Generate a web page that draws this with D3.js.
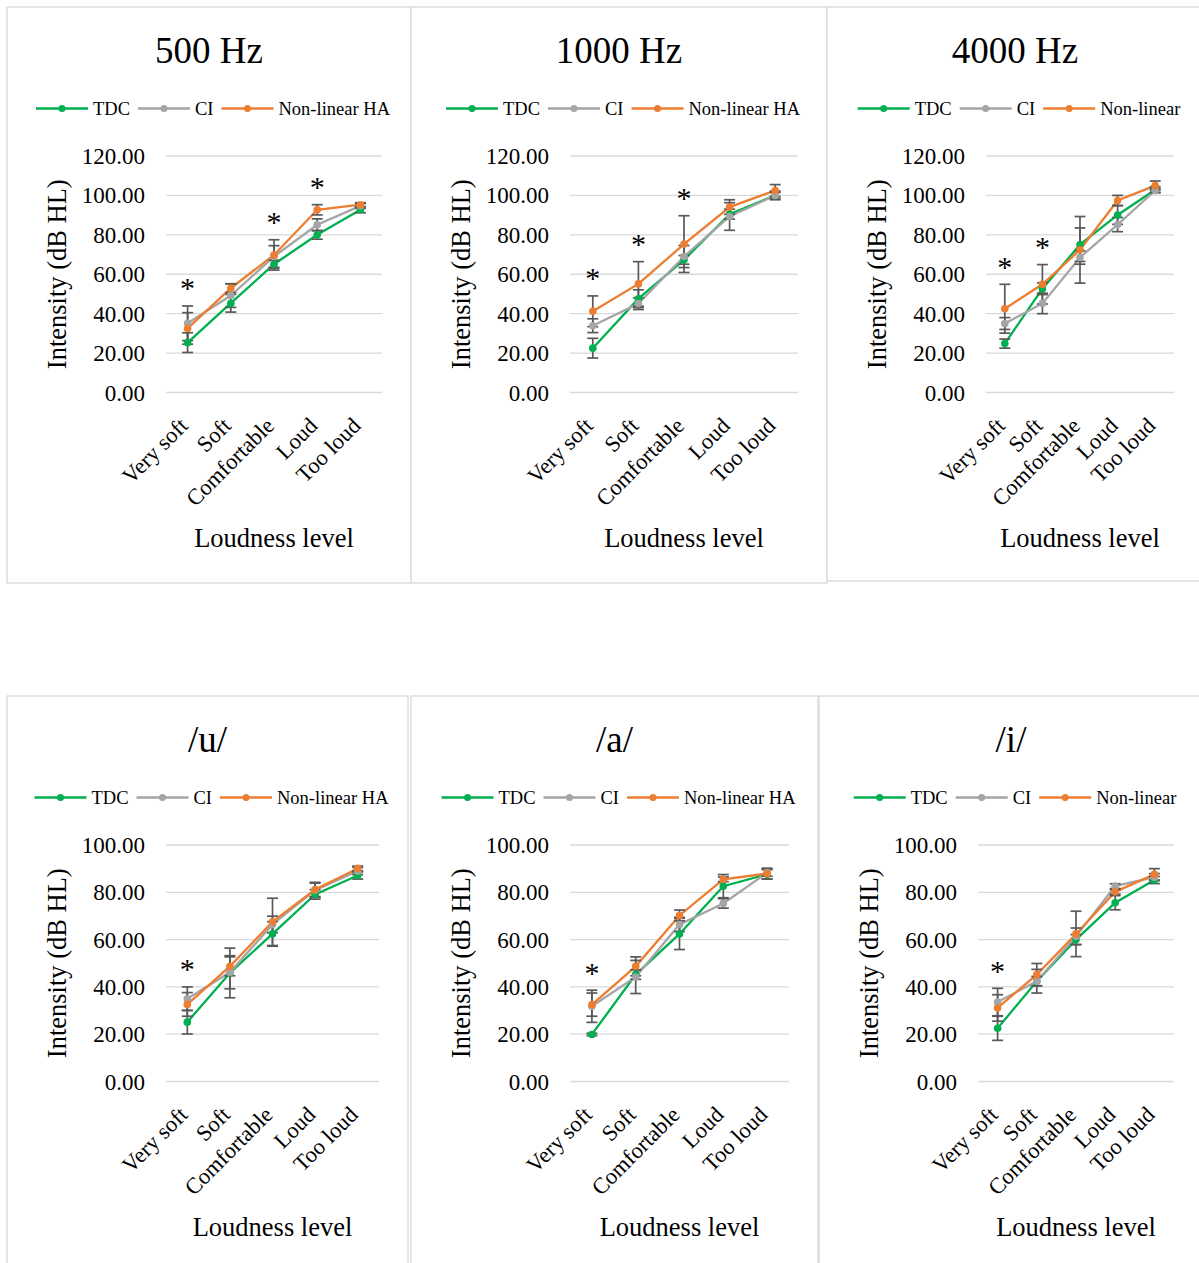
<!DOCTYPE html>
<html>
<head>
<meta charset="utf-8">
<script src="https://cdn.jsdelivr.net/npm/d3@7"></script>
<style>
  body { margin: 0; background: #fff; }
  svg { display: block; font-family: "Liberation Serif", "Times New Roman", serif; }
</style>
</head>
<body>
<svg id="chart" width="1199" height="1263"></svg>
<script>
const levels = ['Very soft', 'Soft', 'Comfortable', 'Loud', 'Too loud'];

// 500 Hz
const hz500TDC = [25.3, 45.3, 65.1, 80.0, 92.7];
const hz500TDCsd = [5.0, 4.5, 2.0, 2.2, 1.5];
const hz500CI = [35.1, 49.2, 69.0, 85.1, 94.7];
const hz500CIsd = [8.8, 6.0, 5.5, 3.0, 1.2];
const hz500HA = [32.5, 52.9, 69.8, 92.7, 95.3];
const hz500HAsd = [8.0, 2.2, 7.7, 2.6, 1.0];
const hz500Sig = ['Very soft', 'Comfortable', 'Loud'];

// 1000 Hz
const hz1000TDC = [22.5, 47.6, 67.3, 90.5, 100.0];
const hz1000TDCsd = [5.0, 4.5, 2.2, 2.5, 1.5];
const hz1000CI = [33.9, 45.1, 69.0, 89.3, 100.0];
const hz1000CIsd = [3.5, 3.0, 5.6, 7.0, 2.2];
const hz1000HA = [41.2, 55.1, 75.3, 94.1, 102.5];
const hz1000HAsd = [7.8, 11.3, 14.4, 3.7, 3.0];
const hz1000Sig = ['Very soft', 'Soft', 'Comfortable'];

// 4000 Hz
const hz4000TDC = [24.8, 52.7, 75.0, 90.1, 102.9];
const hz4000TDCsd = [2.3, 3.0, 8.5, 4.8, 1.5];
const hz4000CI = [35.0, 45.2, 68.5, 85.2, 102.5];
const hz4000CIsd = [3.0, 5.2, 3.4, 3.6, 1.0];
const hz4000HA = [42.5, 54.9, 72.4, 97.4, 105.0];
const hz4000HAsd = [12.4, 10.0, 16.9, 2.6, 2.3];
const hz4000Sig = ['Very soft', 'Soft'];

// /u/
const uTDC = [25.1, 45.9, 62.4, 79.1, 87.1];
const uTDCsd = [5.0, 10.5, 5.2, 2.0, 1.5];
const uCI = [35.0, 46.2, 66.4, 80.9, 89.0];
const uCIsd = [5.0, 7.0, 3.5, 3.0, 1.5];
const uHA = [32.6, 48.7, 67.5, 81.2, 90.1];
const uHAsd = [5.0, 4.0, 10.0, 3.0, 1.0];
const uSig = ['Very soft'];

// /a/
const aTDC = [19.9, 45.2, 62.4, 82.6, 87.6];
const aTDCsd = [0.5, 2.0, 6.6, 4.9, 2.0];
const aCI = [31.8, 44.2, 66.4, 75.3, 88.3];
const aCIsd = [6.8, 7.0, 3.0, 2.0, 1.5];
const aHA = [32.5, 48.7, 70.2, 85.5, 87.9];
const aHAsd = [4.9, 4.0, 2.3, 1.0, 2.3];
const aSig = ['Very soft'];

// /i/
const iTDC = [22.5, 42.4, 60.0, 75.6, 85.2];
const iTDCsd = [5.1, 5.0, 2.1, 3.0, 1.5];
const iCI = [33.6, 42.4, 61.4, 82.6, 86.4];
const iCIsd = [5.8, 2.0, 3.5, 1.0, 1.5];
const iHA = [31.1, 45.2, 62.4, 80.2, 87.6];
const iHAsd = [5.6, 4.7, 9.6, 1.0, 2.4];
const iSig = ['Very soft'];

const panels = [
  {title: '500 Hz', yMax: 120, haLabel: 'Non-linear HA', tdc: [hz500TDC, hz500TDCsd], ci: [hz500CI, hz500CIsd], ha: [hz500HA, hz500HAsd], sig: hz500Sig},
  {title: '1000 Hz', yMax: 120, haLabel: 'Non-linear HA', tdc: [hz1000TDC, hz1000TDCsd], ci: [hz1000CI, hz1000CIsd], ha: [hz1000HA, hz1000HAsd], sig: hz1000Sig},
  {title: '4000 Hz', yMax: 120, haLabel: 'Non-linear', tdc: [hz4000TDC, hz4000TDCsd], ci: [hz4000CI, hz4000CIsd], ha: [hz4000HA, hz4000HAsd], sig: hz4000Sig},
  {title: '/u/', yMax: 100, haLabel: 'Non-linear HA', tdc: [uTDC, uTDCsd], ci: [uCI, uCIsd], ha: [uHA, uHAsd], sig: uSig},
  {title: '/a/', yMax: 100, haLabel: 'Non-linear HA', tdc: [aTDC, aTDCsd], ci: [aCI, aCIsd], ha: [aHA, aHAsd], sig: aSig},
  {title: '/i/', yMax: 100, haLabel: 'Non-linear', tdc: [iTDC, iTDCsd], ci: [iCI, iCIsd], ha: [iHA, iHAsd], sig: iSig}
];

const boxes = [
  [7, 7, 411, 583], [411, 7, 827, 583], [827, 7, 1203, 581],
  [7, 696, 408, 1272], [411, 696, 818, 1272], [819, 696, 1203, 1272]
];

const svg = d3.select('#chart');
const errColor = '#595959';

panels.forEach((p, i) => drawPanel(p, boxes[i]));

function drawPanel(p, b) {
  const [x0, y0, x1, y1] = b;
  const g = svg.append('g');

  g.append('rect')
    .attr('x', x0).attr('y', y0)
    .attr('width', x1 - x0).attr('height', y1 - y0)
    .attr('fill', '#fff')
    .attr('stroke', '#d9d9d9')
    .attr('stroke-width', 1.3);

  const left = x0 + 159, right = x1 - 29, top = y0 + 149, bottom = y0 + 385.5;
  const x = d3.scaleBand().domain(levels).range([left, right]);
  const cx = d => x(d) + x.bandwidth() / 2;
  const y = d3.scaleLinear().domain([0, p.yMax]).range([bottom, top]);
  const ticks = d3.range(0, p.yMax + 1, 20);

  // gridlines
  g.selectAll('.grid').data(ticks).enter().append('line')
    .attr('x1', left).attr('x2', right)
    .attr('y1', d => y(d)).attr('y2', d => y(d))
    .attr('stroke', '#d9d9d9').attr('stroke-width', 1.3);

  // y tick labels
  g.selectAll('.ytick').data(ticks).enter().append('text')
    .attr('x', left - 21).attr('y', d => y(d))
    .attr('dy', '0.35em')
    .attr('text-anchor', 'end')
    .attr('font-size', 23)
    .text(d3.format('.2f'));

  // x tick labels
  g.selectAll('.xtick').data(levels).enter().append('text')
    .attr('transform', d => `translate(${cx(d) - 4},${bottom + 29}) rotate(-45)`)
    .attr('dy', '0.35em')
    .attr('text-anchor', 'end')
    .attr('font-size', 22.5)
    .text(d => d);

  // axis titles
  g.append('text')
    .attr('transform', `translate(${left - 109},${(top + bottom) / 2}) rotate(-90)`)
    .attr('dy', '0.35em')
    .attr('text-anchor', 'middle')
    .attr('font-size', 26.5)
    .text('Intensity (dB HL)');

  g.append('text')
    .attr('x', (left + right) / 2).attr('y', bottom + 145)
    .attr('dy', '0.35em')
    .attr('text-anchor', 'middle')
    .attr('font-size', 26.5)
    .text('Loudness level');

  // title
  g.append('text')
    .attr('x', (x0 + x1) / 2).attr('y', y0 + 56)
    .attr('text-anchor', 'middle')
    .attr('font-size', 37)
    .text(p.title);

  const series = [
    {name: 'TDC', vals: p.tdc[0], sd: p.tdc[1], color: '#00b050'},
    {name: 'CI', vals: p.ci[0], sd: p.ci[1], color: '#a5a5a5'},
    {name: p.haLabel, vals: p.ha[0], sd: p.ha[1], color: '#ed7d31'}
  ];

  // legend
  const leg = g.append('g');
  let lx = 0;
  series.forEach(s => {
    const it = leg.append('g').attr('transform', `translate(${lx},0)`);
    it.append('line').attr('x1', 0).attr('x2', 52)
      .attr('stroke', s.color).attr('stroke-width', 2.3);
    it.append('circle').attr('cx', 26).attr('r', 3.5).attr('fill', s.color);
    const t = it.append('text').attr('x', 57).attr('dy', '0.35em')
      .attr('font-size', 18.5).text(s.name);
    lx += 57 + t.node().getComputedTextLength() + 8;
  });
  const legW = lx - 8;
  leg.attr('transform', `translate(${(x0 + x1) / 2 + 4 - legW / 2},${y0 + 101.5})`);

  const line = d3.line().x((d, i) => cx(levels[i])).y(d => y(d));

  series.forEach(s => {
    g.append('path').datum(s.vals)
      .attr('d', line)
      .attr('fill', 'none')
      .attr('stroke', s.color)
      .attr('stroke-width', 2.3);
  });

  // error bars
  series.forEach(s => {
    const eb = g.append('g').attr('stroke', errColor).attr('stroke-width', 1.7);
    s.vals.forEach((v, i) => {
      const xc = cx(levels[i]);
      const lo = y(v - s.sd[i]), hi = y(v + s.sd[i]);
      eb.append('line').attr('x1', xc).attr('x2', xc).attr('y1', lo).attr('y2', hi);
      eb.append('line').attr('x1', xc - 5.5).attr('x2', xc + 5.5).attr('y1', lo).attr('y2', lo);
      eb.append('line').attr('x1', xc - 5.5).attr('x2', xc + 5.5).attr('y1', hi).attr('y2', hi);
    });
  });

  series.forEach(s => {
    g.selectAll(null).data(s.vals).enter().append('circle')
      .attr('cx', (d, i) => cx(levels[i]))
      .attr('cy', d => y(d))
      .attr('r', 3.8)
      .attr('fill', s.color);
  });

  // significance markers above the highest error bar
  p.sig.forEach(lv => {
    const i = levels.indexOf(lv);
    const maxTop = d3.max(series, s => s.vals[i] + s.sd[i]);
    g.append('text')
      .attr('x', cx(lv)).attr('y', y(maxTop) - 23.5 + 16)
      .attr('text-anchor', 'middle')
      .attr('font-size', 30)
      .text('*');
  });
}
</script>
</body>
</html>
